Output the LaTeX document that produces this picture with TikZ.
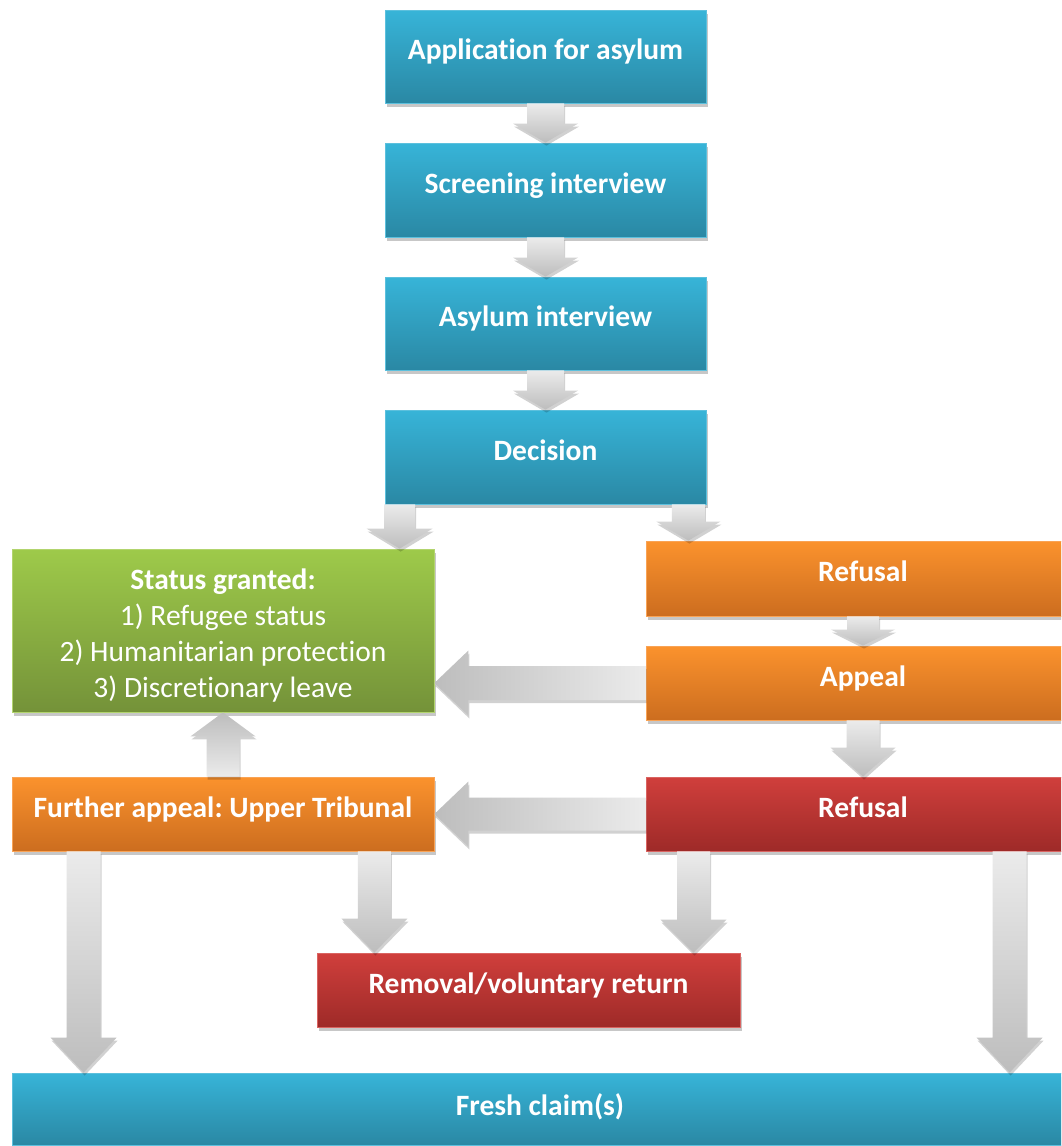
\documentclass[tikz,border=0pt]{standalone}
\usepackage{fontspec}
\setmainfont{Carlito}[Ligatures=NoCommon]
\frenchspacing
\usetikzlibrary{shadows,calc}
\definecolor{bluetop}{HTML}{37B4D8}
\definecolor{bluebot}{HTML}{2A88A4}
\definecolor{blueedge}{HTML}{5CC0DD}
\definecolor{orangetop}{HTML}{FB922D}
\definecolor{orangebot}{HTML}{CC6D1F}
\definecolor{orangeedge}{HTML}{F9A355}
\definecolor{redtop}{HTML}{D03F3C}
\definecolor{redbot}{HTML}{9E2A28}
\definecolor{rededge}{HTML}{DA6461}
\definecolor{greentop}{HTML}{9ECA4A}
\definecolor{greenbot}{HTML}{749239}
\definecolor{greenedge}{HTML}{B2D46E}
\definecolor{arrlight}{HTML}{EBEBEB}
\definecolor{arrdark}{HTML}{BDBDBD}
\tikzset{
  basebox/.style={rectangle, inner sep=0pt, text=white, align=center,
    font=\fontsize{29.5}{35}\selectfont\bfseries, line width=0.8pt,
    text height=20pt, text depth=14pt,
    drop shadow={shadow xshift=1.5pt, shadow yshift=-4pt, opacity=0.22, fill=black}},
  bluebox/.style={basebox, top color=bluetop, bottom color=bluebot, draw=blueedge},
  orangebox/.style={basebox, top color=orangetop, bottom color=orangebot, draw=orangeedge},
  redbox/.style={basebox, top color=redtop, bottom color=redbot, draw=rededge},
  greenbox/.style={basebox, top color=greentop, bottom color=greenbot, draw=greenedge},
  arrshadow/.style={drop shadow={shadow xshift=1pt, shadow yshift=-3pt, opacity=0.18, fill=black}},
  vshade/.style={arrshadow, top color=arrlight, bottom color=arrdark},
  ushade/.style={arrshadow, top color=arrdark, bottom color=arrlight},
  lshade/.style={arrshadow, left color=arrdark, right color=arrlight},
}
% down block arrow: from, to, shaft half width, head half width, head length
\newcommand{\bdown}[5]{%
  \path[vshade] let \p1=(#1), \p2=(#2) in
    (\x1-#3pt,\y1) -- (\x1-#3pt,\y2+#5pt) -- (\x1-#4pt,\y2+#5pt) -- (\x1,\y2)
    -- (\x1+#4pt,\y2+#5pt) -- (\x1+#3pt,\y2+#5pt) -- (\x1+#3pt,\y1) -- cycle;}
% up block arrow
\newcommand{\bup}[5]{%
  \path[ushade] let \p1=(#1), \p2=(#2) in
    (\x1-#3pt,\y1) -- (\x1-#3pt,\y2-#5pt) -- (\x1-#4pt,\y2-#5pt) -- (\x1,\y2)
    -- (\x1+#4pt,\y2-#5pt) -- (\x1+#3pt,\y2-#5pt) -- (\x1+#3pt,\y1) -- cycle;}
% left block arrow
\newcommand{\bleft}[5]{%
  \path[lshade] let \p1=(#1), \p2=(#2) in
    (\x1,\y1-#3pt) -- (\x2+#5pt,\y1-#3pt) -- (\x2+#5pt,\y1-#4pt) -- (\x2,\y1)
    -- (\x2+#5pt,\y1+#4pt) -- (\x2+#5pt,\y1+#3pt) -- (\x1,\y1+#3pt) -- cycle;}
\begin{document}
\begin{tikzpicture}[x=1pt,y=-1pt]
\useasboundingbox (0,0) rectangle (1061,1146);
\clip (0,0) rectangle (1061,1146);
\fill[white] (0,0) rectangle (1061,1146);

% boxes
\node[bluebox, minimum width=321pt, minimum height=93pt] (app) at (545.5,56.5) {Application for asylum};
\node[bluebox, minimum width=321pt, minimum height=94pt] (scr) at (545.5,190) {Screening interview};
\node[bluebox, minimum width=321pt, minimum height=93pt] (asy) at (545.5,323.5) {Asylum interview};
\node[bluebox, minimum width=321pt, minimum height=94pt] (dec) at (545.5,457) {Decision};
\node[greenbox, minimum width=422pt, minimum height=163pt, font=\fontsize{29.5}{36}\selectfont,
  text height=, text depth=] (stat) at (223,630.5)
  {\rule{0pt}{30pt}\textbf{Status granted:}\\1) Refugee status\\2) Humanitarian protection\\3) Discretionary leave};
\node[orangebox, minimum width=434pt, minimum height=75pt] (ref1) at (863,578.5) {Refusal};
\node[orangebox, minimum width=434pt, minimum height=74pt] (apl) at (863,683) {Appeal};
\node[redbox, minimum width=434pt, minimum height=74pt] (ref2) at (863,814) {Refusal};
\node[orangebox, minimum width=422pt, minimum height=74pt] (fur) at (223,814) {Further appeal: Upper Tribunal};
\node[redbox, minimum width=423pt, minimum height=74pt] (rem) at (528.5,990) {Removal/voluntary return};
\node[bluebox, minimum width=1056pt, minimum height=72pt, text height=20pt, text depth=8pt] (fresh) at (540,1109) {Fresh claim(s)};

% arrow start points
\coordinate (d1) at ([xshift=15pt]dec.south west);
\coordinate (d2) at ([xshift=-18pt]dec.south east);
\coordinate (f1) at ([xshift=72pt]fur.south west);
\coordinate (f2) at ([xshift=-60pt]fur.south east);
\coordinate (r1) at ([xshift=48pt]ref2.south west);
\coordinate (r2) at ([xshift=364pt]ref2.south west);

% arrows
\bdown{app.south}{scr.north}{18.5}{32.5}{19}
\bdown{scr.south}{asy.north}{18.5}{32.5}{19}
\bdown{asy.south}{dec.north}{18.5}{32.5}{19}
\bdown{d1}{stat.north}{15.5}{33}{20}
\bdown{d2}{ref1.north}{16.5}{32}{19}
\bdown{ref1.south}{apl.north}{16}{32}{16}
\bdown{apl.south}{ref2.north}{16.5}{32.5}{29}
\bleft{apl.west}{stat.east}{17}{32.5}{34}
\bleft{ref2.west}{fur.east}{16.5}{32.5}{34}
\bup{fur.north}{stat.south}{16.5}{32.5}{24}
\bdown{f1}{fresh.north}{17}{33}{35}
\bdown{f2}{rem.north}{16.5}{33}{34}
\bdown{r1}{rem.north}{16.5}{33}{33}
\bdown{r2}{fresh.north}{17}{33}{35}
\end{tikzpicture}
\end{document}
